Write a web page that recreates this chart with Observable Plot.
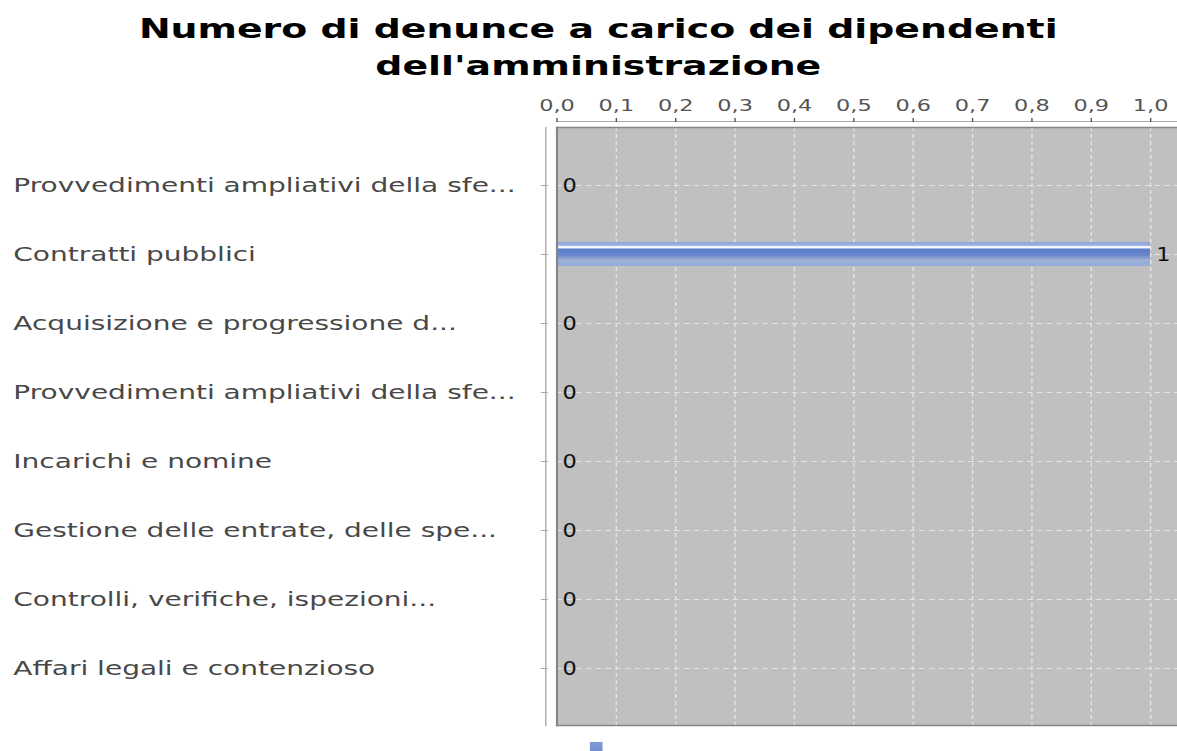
<!DOCTYPE html>
<html>
<head>
<meta charset="utf-8">
<script src="https://cdn.jsdelivr.net/npm/d3@7"></script>
<script src="https://cdn.jsdelivr.net/npm/@observablehq/plot@0.6"></script>
<style>
  html, body { margin: 0; padding: 0; background: #fff; overflow: hidden; }
  #wrap { position: relative; width: 840px; height: 751px; transform: scaleX(1.40119); transform-origin: 0 0; font-family: "DejaVu Sans", sans-serif; }
  #title { position: absolute; top: 10px; left: 0; width: 840px; padding-left: 14px; box-sizing: border-box; text-align: center; font-weight: bold; font-size: 27px; line-height: 37px; color: #000; }
  #chart { position: absolute; top: 84px; left: 0; }
  #legend { position: absolute; left: 421px; top: 742px; width: 9px; height: 12px; background: linear-gradient(#7f9bd8, #6f8ccc); }
</style>
</head>
<body>
<div id="wrap">
  <div id="title">Numero di denunce a carico dei dipendenti<br>dell'amministrazione</div>
  <div id="chart"></div>
  <div id="legend"></div>
</div>
<script>
const categories = [
  "Provvedimenti ampliativi della sfe...",
  "Contratti pubblici",
  "Acquisizione e progressione d...",
  "Provvedimenti ampliativi della sfe...",
  "Incarichi e nomine",
  "Gestione delle entrate, delle spe...",
  "Controlli, verifiche, ispezioni...",
  "Affari legali e contenzioso"
];
const values = [0, 1, 0, 0, 0, 0, 0, 0];
const xTicks = [0, 0.1, 0.2, 0.3, 0.4, 0.5, 0.6, 0.7, 0.8, 0.9, 1.0];

const data = categories.map((c, i) => ({key: i, label: c, value: values[i]}));
const fmt = d => d3.format(".1f")(d).replace(".", ",");

const chart = Plot.plot({
  width: 840,
  height: 667,
  marginTop: 43,
  marginBottom: 26,
  marginLeft: 397,
  marginRight: 0,
  style: {fontFamily: "DejaVu Sans", fontSize: "16px", background: "transparent", overflow: "visible"},
  x: {domain: [0, 1.0455], axis: null},
  y: {domain: d3.range(categories.length), paddingInner: 0.654, paddingOuter: 0.635, axis: null},
  marks: [
    Plot.frame({fill: "#c0c0c0", stroke: "none"}),
    Plot.gridX({ticks: xTicks, stroke: "#e4e4e4", strokeOpacity: 1, strokeDasharray: "4,3"}),
    Plot.gridY({stroke: "#e4e4e4", strokeOpacity: 1, strokeDasharray: "4,3"}),
    Plot.barX(data, {x: "value", y: "key", fill: "url(#barGrad)"}),
    Plot.text(data, {x: "value", y: "key", text: d => String(d.value), textAnchor: "start", dx: 4, fontSize: 20, fill: "#111"}),
    Plot.frame({anchor: "top", stroke: "#858585", strokeWidth: 1.5}),
    Plot.frame({anchor: "bottom", stroke: "#858585", strokeWidth: 1.5}),
    Plot.frame({anchor: "left", stroke: "#858585", strokeWidth: 1.5}),
    Plot.frame({anchor: "top", dy: -6, stroke: "#aaaaaa"}),
    Plot.frame({anchor: "left", dx: -8, stroke: "#aaaaaa"}),
    Plot.axisX({anchor: "top", ticks: xTicks, tickFormat: fmt, dy: -6, tickSize: 4, tickPadding: 7, fontSize: 16, color: "#555", label: null}),
    Plot.axisY({anchor: "left", tickSize: 5, dx: -6, tickFormat: () => "", color: "#aaa", label: null}),
    Plot.text(data, {y: "key", text: "label", frameAnchor: "left", textAnchor: "start", dx: -388, fontSize: 20, fill: "#484848"})
  ]
});

d3.select(chart).insert("defs", ":first-child").html(`
  <linearGradient id="barGrad" x1="0" y1="0" x2="0" y2="1">
    <stop offset="0" stop-color="#8aa3da"/>
    <stop offset="0.16" stop-color="#a3b8e6"/>
    <stop offset="0.19" stop-color="#f6f8ff"/>
    <stop offset="0.25" stop-color="#f6f8ff"/>
    <stop offset="0.29" stop-color="#5a7ccb"/>
    <stop offset="0.55" stop-color="#6987cb"/>
    <stop offset="0.78" stop-color="#a8b5d3"/>
    <stop offset="0.81" stop-color="#98acdb"/>
    <stop offset="1" stop-color="#98acdb"/>
  </linearGradient>`);

// value labels are drawn narrower than the other (stretched) texts
d3.select(chart).selectAll("text").each(function() {
  if (!/^\d+$/.test(this.textContent)) return;
  const t = this.getAttribute("transform");
  if (t) {
    this.setAttribute("transform", t + " scale(0.8,1)");
  } else {
    const x = +(this.getAttribute("x") || 0);
    this.setAttribute("transform", `translate(${x},0) scale(0.8,1) translate(${-x},0)`);
  }
});

document.getElementById("chart").appendChild(chart);
</script>
</body>
</html>
